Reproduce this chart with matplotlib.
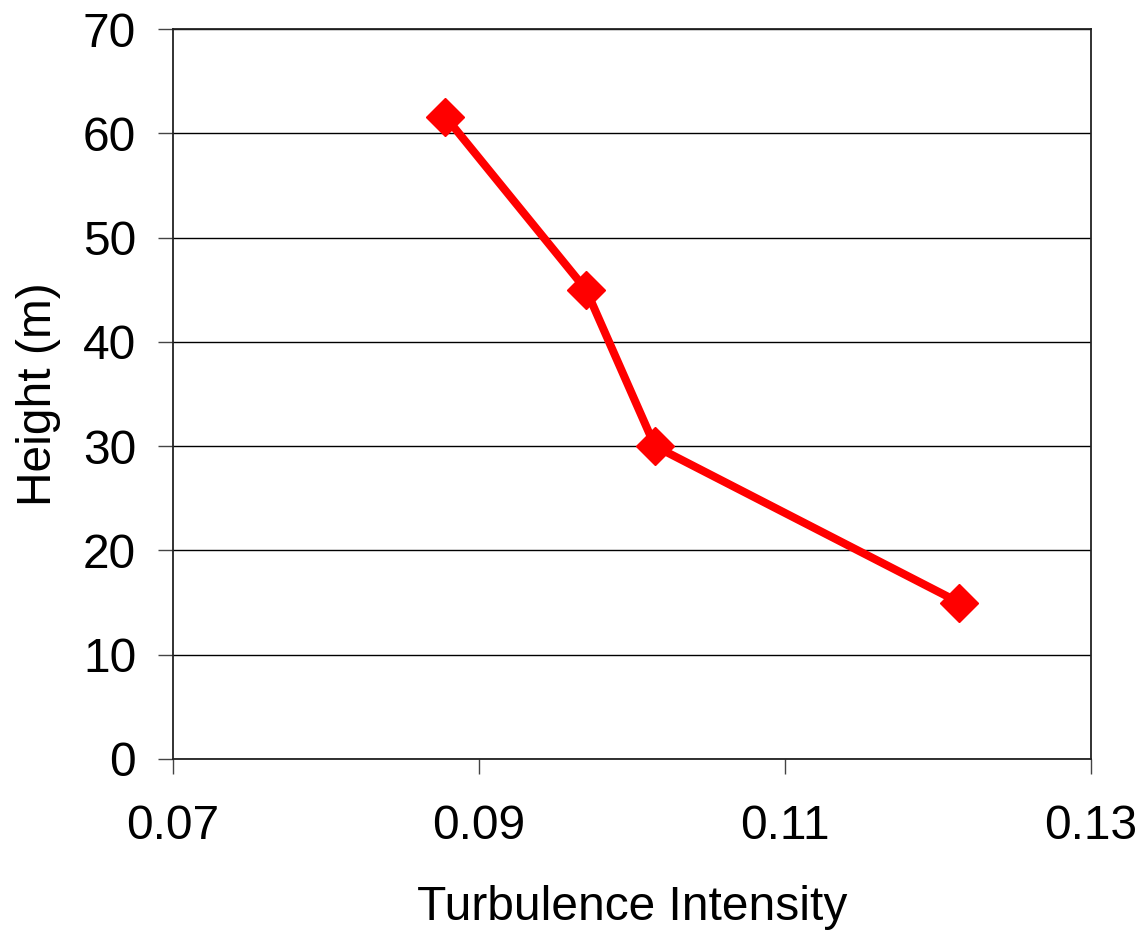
import matplotlib
matplotlib.use("Agg")
import matplotlib.pyplot as plt

# valores
turb = [0.0878, 0.0970, 0.1015, 0.1214]
altura = [61.6, 45.0, 30.0, 15.0]
xticks = [0.07, 0.09, 0.11, 0.13]
yticks = [0, 10, 20, 30, 40, 50, 60, 70]

plt.rcParams["font.family"] = ["Liberation Sans", "DejaVu Sans"]

fig = plt.figure(figsize=(11.42, 9.33), dpi=100)
ax = fig.add_axes([0.1515, 0.1865, 0.8038, 0.7824])

ax.plot(turb, altura, color="#FF0000", linewidth=5.8, marker="D",
        markersize=19, markerfacecolor="#FF0000", markeredgecolor="#FF0000",
        zorder=3, clip_on=False)

ax.set_xlim(0.07, 0.13)
ax.set_ylim(0, 70)
ax.set_xticks(xticks)
ax.set_xticklabels([f"{v:.2f}" for v in xticks])
ax.set_yticks(yticks)

ax.yaxis.grid(True, color="black", linewidth=1.0)
ax.set_axisbelow(True)

for s in ax.spines.values():
    s.set_color("#222222")
    s.set_linewidth(1.3)

ax.tick_params(axis="both", direction="out", length=10.5, width=1.0,
               colors="#444444", labelcolor="black", labelsize=34.5)
ax.tick_params(axis="x", pad=22)
ax.tick_params(axis="y", pad=16)

ax.set_xlabel("Turbulence Intensity", fontsize=34.5, labelpad=26)
ax.set_ylabel("Height (m)", fontsize=34.5, labelpad=16)

fig.savefig("out.png", dpi=100, facecolor="white")
